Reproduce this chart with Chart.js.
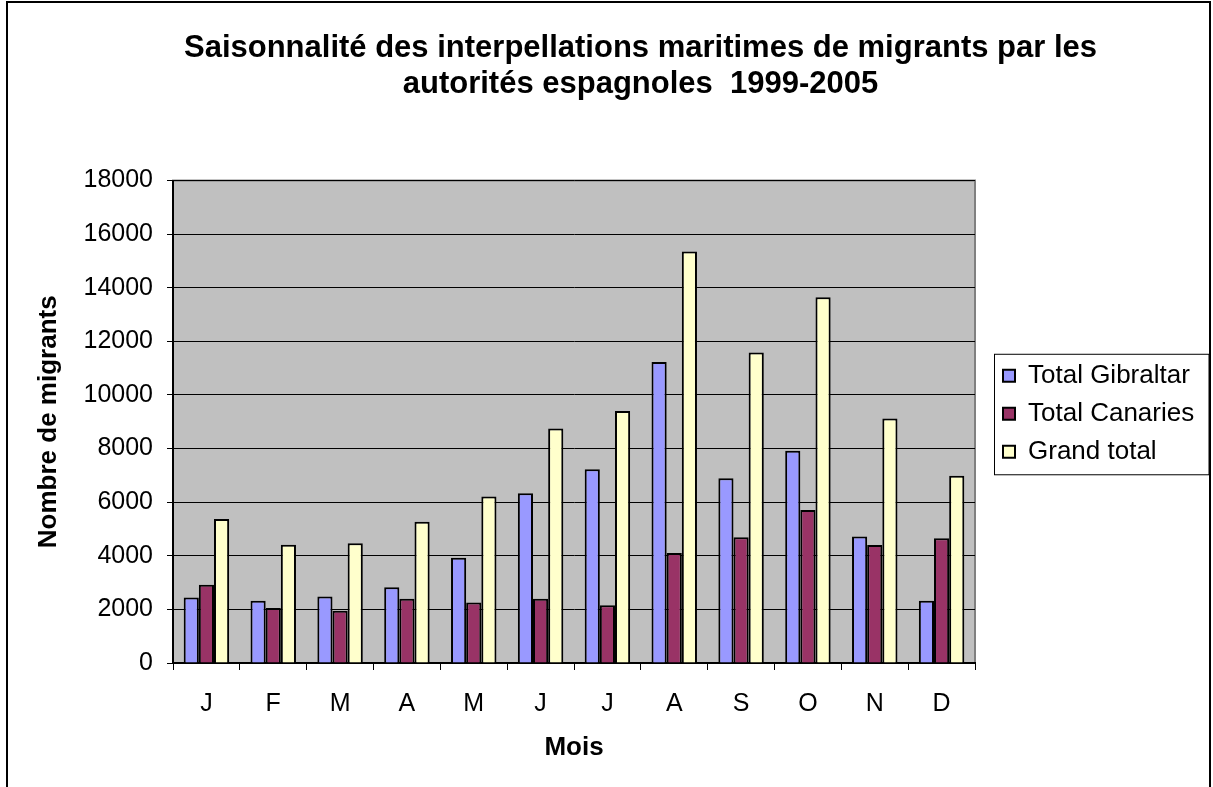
<!DOCTYPE html>
<html>
<head>
<meta charset="utf-8">
<script src="https://cdn.jsdelivr.net/npm/chart.js@4/dist/chart.umd.min.js"></script>
<style>
  html, body { margin: 0; padding: 0; background: #fff; }
  #wrap { width: 1213px; height: 787px; }
</style>
</head>
<body>
<div id="wrap"><canvas id="chart" width="1213" height="787"></canvas></div>
<script>
// Data
const months = ['J', 'F', 'M', 'A', 'M', 'J', 'J', 'A', 'S', 'O', 'N', 'D'];
const gibraltar = [2440, 2320, 2480, 2830, 3930, 6330, 7230, 11230, 6890, 7920, 4720, 2320];
const canaries  = [2920, 2050, 1950, 2400, 2260, 2400, 2150, 4100, 4690, 5710, 4400, 4650];
const grandTotal = [5370, 4410, 4470, 5270, 6210, 8750, 9400, 15350, 11580, 13650, 9120, 6990];

const titleLines = ['Saisonnalité des interpellations maritimes de migrants par les',
                    'autorités espagnoles  1999-2005'];

const FONT = "'Liberation Sans', Arial, sans-serif";

// plot background, frame and legend box
const decor = {
  id: 'decor',
  beforeLayout(chart) {
    const lg = chart.legend;
    if (lg && !lg._patched) {
      const fit = lg.fit;
      lg.fit = function () { fit.call(this); this.width = 238; };
      lg._patched = true;
    }
  },
  afterLayout(chart) {
    // nudge title and legend to where Excel put them
    const t = chart.titleBlock;
    t.left += 34; t.right += 34;
    const lg = chart.legend;
    lg.left += 16; lg.right += 16;
    lg.top -= 8; lg.bottom -= 8;
  },
  beforeDraw(chart) {
    const { ctx, chartArea: a } = chart;
    ctx.save();
    ctx.fillStyle = '#fff';
    ctx.fillRect(0, 0, chart.width, chart.height);
    ctx.fillStyle = '#C0C0C0';
    ctx.fillRect(a.left, a.top, a.right - a.left, a.bottom - a.top);
    ctx.strokeStyle = '#808080';
    ctx.lineWidth = 2;
    ctx.strokeRect(a.left, a.top, a.right - a.left, a.bottom - a.top);
    // outer frame
    ctx.strokeStyle = '#000';
    ctx.lineWidth = 2;
    ctx.strokeRect(7, 2, chart.width - 10, chart.height + 10);
    ctx.restore();
  },
  afterDraw(chart) {
    const { ctx } = chart;
    const hb = chart.legend.legendHitBoxes;
    if (!hb || !hb.length) return;
    const first = hb[0], last = hb[hb.length - 1];
    ctx.save();
    ctx.strokeStyle = '#000';
    ctx.lineWidth = 1;
    const x = first.left - 8.5, y = first.top - 8.5;
    ctx.strokeRect(x, y, chart.width - 4 - x, last.top + last.height + 10 - y);
    ctx.restore();
  }
};

new Chart(document.getElementById('chart'), {
  type: 'bar',
  data: {
    labels: months,
    datasets: [
      { label: 'Total Gibraltar', data: gibraltar, backgroundColor: '#9999FF' },
      { label: 'Total Canaries', data: canaries, backgroundColor: '#993366' },
      { label: 'Grand total', data: grandTotal, backgroundColor: '#FFFFCC' }
    ].map(d => Object.assign(d, {
      borderColor: '#000', borderWidth: 2,
      categoryPercentage: 0.68, barPercentage: 1.0
    }))
  },
  options: {
    responsive: false,
    animation: false,
    layout: { padding: { left: 0, right: 0, top: 0, bottom: 0 } },
    plugins: {
      tooltip: { enabled: false },
      title: {
        display: true,
        text: titleLines,
        color: '#000',
        font: { family: FONT, size: 31, weight: 'bold', lineHeight: 1.17 },
        padding: { top: 30, bottom: 78 }
      },
      legend: {
        display: true,
        position: 'right',
        fullSize: false,
        labels: {
          color: '#000',
          font: { family: FONT, size: 26 },
          boxWidth: 12, boxHeight: 12,
          padding: 12,
          useBorderRadius: false
        }
      }
    },
    scales: {
      x: {
        grid: { display: true, drawOnChartArea: false, color: '#000', tickLength: 7, offset: true },
        border: { color: '#000', width: 2 },
        ticks: { color: '#000', font: { family: FONT, size: 25 }, padding: 19, maxRotation: 0 },
        title: {
          display: true, text: 'Mois', color: '#000',
          font: { family: FONT, size: 26, weight: 'bold' },
          padding: { top: 24, bottom: 24 }
        },
        afterFit(scale) { scale.height = 124; }
      },
      y: {
        min: 0, max: 18000,
        ticks: {
          stepSize: 2000, color: '#000', font: { family: FONT, size: 25 }, padding: 14,
          callback: v => String(v)
        },
        grid: { color: '#000', lineWidth: 1, tickLength: 6 },
        border: { color: '#000', width: 2 },
        title: {
          display: true, text: 'Nombre de migrants', color: '#000',
          font: { family: FONT, size: 26, weight: 'bold' },
          padding: { top: 33, bottom: 33 }
        },
        afterFit(scale) { scale.width = 173; }
      }
    }
  },
  plugins: [decor]
});
</script>
</body>
</html>
